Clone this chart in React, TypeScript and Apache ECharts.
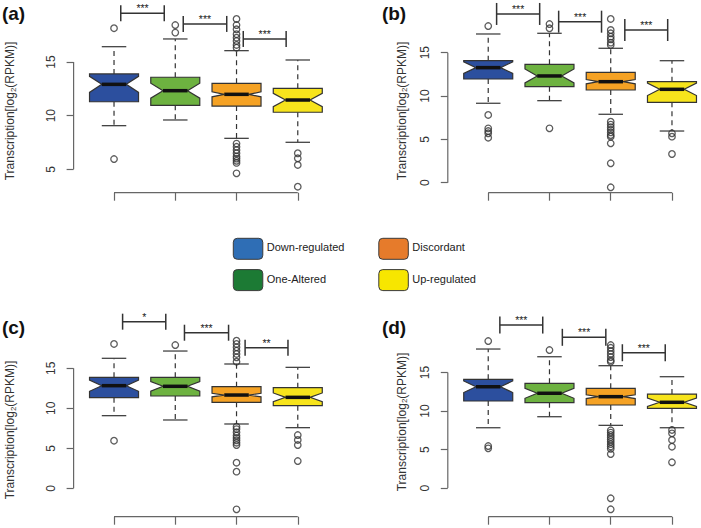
import React, { useEffect, useRef } from 'react';
import * as echarts from 'echarts';

const FONT = 'Liberation Sans, Arial, Helvetica, sans-serif';

const groups = ['Down-regulated', 'One-Altered', 'Discordant', 'Up-regulated'];
const boxColors = ['#2C4F9E', '#6DB240', '#F5A224', '#F7E41C'];
const legendColors = ['#2F6EB5', '#1C7A34', '#E67B2B', '#F7E600'];
const panelLabels = ['(a)', '(b)', '(c)', '(d)'];

// stats per group: [lowerWhisker, q1, median, q3, upperWhisker]
const statsA = [
  [9.07, 11.3, 12.92, 13.89, 16.43],
  [9.6, 10.97, 12.33, 13.58, 17.15],
  [7.89, 10.9, 11.99, 13.02, 16.06],
  [7.52, 10.32, 11.46, 12.55, 15.19],
];
const notchA = [0.75, 0.7, 0.23, 0.62];
const outliersA = [
  [18.15, 5.96],
  [18.45, 17.74],
  [19.01, 18.45, 18.05, 17.59, 17.27, 16.96, 16.59, 16.34, 7.4, 7.1, 6.8, 6.5, 6.2, 6.0, 5.8, 5.6, 4.63],
  [6.5, 6.03, 5.41, 3.38],
];
const bracketsA = [
  [1.11, 1.82, 19.54],
  [2.13, 2.84, 18.55],
  [3.11, 3.81, 17.15],
];
const starsA = ['***', '***', '***'];

const statsB = [
  [9.16, 11.96, 13.27, 14.07, 17.15],
  [9.46, 11.07, 12.31, 13.65, 17.23],
  [7.89, 10.69, 11.65, 12.73, 15.5],
  [5.96, 9.27, 10.77, 11.65, 14.07],
];
const notchB = [0.67, 0.8, 0.25, 0.72];
const outliersB = [
  [18.07, 7.81, 6.27, 5.96, 5.7, 5.19],
  [18.3, 17.81, 6.27],
  [18.88, 17.61, 17.23, 16.84, 16.54, 16.15, 15.88, 7.04, 6.7, 6.4, 6.1, 5.8, 5.5, 5.3, 4.54, 2.24, -0.53],
  [5.7, 5.31, 3.31],
];
const bracketsB = [
  [1.137, 1.84, 19.46],
  [2.15, 2.85, 18.57],
  [3.23, 3.93, 17.61],
];
const starsB = ['***', '***', '***'];

const statsC = [
  [9.08, 11.33, 12.83, 13.87, 16.25],
  [8.54, 11.54, 12.75, 13.87, 17.16],
  [8.04, 10.75, 11.66, 12.7, 15.54],
  [7.58, 10.33, 11.37, 12.58, 15.12],
];
const notchC = [0.7, 0.6, 0.22, 0.55];
const outliersC = [
  [18.04, 5.95],
  [17.91],
  [18.45, 18.04, 17.62, 17.2, 16.79, 16.37, 15.83, 7.7, 7.4, 7.0, 6.6, 6.3, 6.0, 5.7, 5.4, 3.2, 2.08, -2.63],
  [6.66, 6.04, 5.41, 3.41],
];
const bracketsC = [
  [1.14, 1.845, 20.83],
  [2.15, 2.87, 19.45],
  [3.14, 3.84, 17.58],
];
const starsC = ['*', '***', '**'];

const statsD = [
  [7.83, 11.3, 13.15, 14.11, 18.04],
  [9.26, 11.08, 12.3, 13.59, 17.04],
  [8.14, 10.78, 11.86, 12.94, 15.88],
  [7.83, 10.35, 11.13, 12.2, 14.45],
];
const notchD = [0.75, 0.65, 0.25, 0.55];
const outliersD = [
  [19.08, 5.46, 5.16],
  [17.91],
  [18.56, 18.2, 17.8, 17.4, 17.0, 16.6, 16.4, 7.5, 7.2, 6.9, 6.6, 6.3, 6.0, 5.7, 5.4, 5.1, 4.42, -1.32, -2.75],
  [7.54, 7.1, 6.24, 5.37, 3.35],
];
const bracketsD = [
  [1.19, 1.89, 21.15],
  [2.21, 2.92, 19.56],
  [3.19, 3.89, 17.56],
];
const starsD = ['***', '***', '***'];

const yTicksA = [5, 10, 15];
const yTicksB = [0, 5, 10, 15];
const yTicksC = [0, 5, 10, 15];
const yTicksD = [0, 5, 10, 15];
const xTicks = [1, 2, 3, 4];

// layout (pixels) and axis ranges per panel
const panels = [
  { stats: statsA, notch: notchA, out: outliersA, br: bracketsA, stars: starsA, ticks: yTicksA,
    left: 73.6, top: 0, height: 192.7, yMin: 2.824, yMax: 20.78, tickHalf: 8,
    title: [10, 111], label: [13.5, 13.5] },
  { stats: statsB, notch: notchB, out: outliersB, br: bracketsB, stars: starsB, ticks: yTicksB,
    left: 447.8, top: 0, height: 192.7, yMin: -1.153, yMax: 21.07, tickHalf: 11,
    title: [401.7, 111], label: [394, 13] },
  { stats: statsC, notch: notchC, out: outliersC, br: bracketsC, stars: starsC, ticks: yTicksC,
    left: 73.6, top: 300, height: 216.7, yMin: -3.55, yMax: 23.54, tickHalf: 8,
    title: [10, 430], label: [13.5, 327.5] },
  { stats: statsD, notch: notchD, out: outliersD, br: bracketsD, stars: starsD, ticks: yTicksD,
    left: 447.8, top: 300, height: 216.7, yMin: -3.71, yMax: 24.4, tickHalf: 8.5,
    title: [401.7, 422], label: [394, 327] },
];
const X_MIN = 0.34;
const X_MAX = 4.45;
const PX_PER_X = 61.25;

const legendItems = [
  { name: groups[0], color: legendColors[0], x: 233.3, y: 238.3 },
  { name: groups[2], color: legendColors[2], x: 378.8, y: 238.3 },
  { name: groups[1], color: legendColors[1], x: 233.3, y: 269.6 },
  { name: groups[3], color: legendColors[3], x: 378.8, y: 269.6 },
];

function buildOption() {
  const grid: any[] = [];
  const xAxis: any[] = [];
  const yAxis: any[] = [];
  const series: any[] = [];
  const graphic: any[] = [];

  panels.forEach((p, gi) => {
    grid.push({ left: p.left, top: p.top, width: (X_MAX - X_MIN) * PX_PER_X, height: p.height, containLabel: false });
    xAxis.push({
      gridIndex: gi, type: 'value', min: X_MIN, max: X_MAX, position: 'bottom',
      axisLine: { show: false, onZero: false }, splitLine: { show: false },
      axisTick: { show: true, length: 8, customValues: xTicks, lineStyle: { color: '#666', width: 1.2 } },
      axisLabel: { show: false },
    });
    yAxis.push({
      gridIndex: gi, type: 'value', min: p.yMin, max: p.yMax, position: 'left',
      axisLine: { show: false, onZero: false }, splitLine: { show: false },
      axisTick: { show: true, length: 7, customValues: p.ticks, lineStyle: { color: '#666', width: 1.2 } },
      axisLabel: { show: true, customValues: p.ticks, rotate: 90, margin: 17, fontSize: 12, color: '#333', fontFamily: FONT },
    });

    // axis lines spanning tick range (R style)
    const ticks = p.ticks;
    series.push({
      type: 'custom', xAxisIndex: gi, yAxisIndex: gi, silent: true, z: 1,
      data: [[xTicks[0], ticks[0]]],
      renderItem: (params: any, api: any) => {
        const cs = params.coordSys;
        const bottom = cs.y + cs.height;
        const xa = api.coord([xTicks[0], p.yMin])[0];
        const xb = api.coord([xTicks[xTicks.length - 1], p.yMin])[0];
        const ya = api.coord([X_MIN, ticks[0]])[1];
        const yb = api.coord([X_MIN, ticks[ticks.length - 1]])[1];
        const st = { stroke: '#666', lineWidth: 1.2 };
        return {
          type: 'group', children: [
            { type: 'line', shape: { x1: xa, y1: bottom, x2: xb, y2: bottom }, style: st },
            { type: 'line', shape: { x1: cs.x, y1: ya, x2: cs.x, y2: yb }, style: st },
          ],
        };
      },
    });

    // notched boxes
    const boxData = p.stats.map((s, i) => [i + 1, s[0], s[1], s[2], s[3], s[4], p.notch[i]]);
    series.push({
      type: 'custom', name: 'box' + gi, xAxisIndex: gi, yAxisIndex: gi, z: 2,
      data: boxData,
      encode: { x: 0, y: [1, 5] },
      renderItem: (params: any, api: any) => {
        const x = api.value(0);
        const lw = api.value(1), q1 = api.value(2), med = api.value(3), q3 = api.value(4), uw = api.value(5), nh = api.value(6);
        const halfW = api.size([0.8, 0])[0] / 2;
        const nw = halfW / 2;
        const cap = halfW / 2;
        const cx = api.coord([x, med])[0];
        const Y = (v: number) => api.coord([x, v])[1];
        const yq1 = Y(q1), yq3 = Y(q3), ym = Y(med), ylo = Y(med - nh), yhi = Y(med + nh), ylw = Y(lw), yuw = Y(uw);
        const dash = { stroke: '#333', lineWidth: 1.2, lineDash: [5, 4] };
        const capSt = { stroke: '#444', lineWidth: 1.3 };
        return {
          type: 'group', children: [
            { type: 'line', shape: { x1: cx, y1: yq3, x2: cx, y2: yuw }, style: dash },
            { type: 'line', shape: { x1: cx, y1: yq1, x2: cx, y2: ylw }, style: dash },
            { type: 'line', shape: { x1: cx - cap, y1: yuw, x2: cx + cap, y2: yuw }, style: capSt },
            { type: 'line', shape: { x1: cx - cap, y1: ylw, x2: cx + cap, y2: ylw }, style: capSt },
            {
              type: 'polygon',
              shape: {
                points: [
                  [cx - halfW, yq1], [cx + halfW, yq1], [cx + halfW, ylo], [cx + nw, ym], [cx + halfW, yhi],
                  [cx + halfW, yq3], [cx - halfW, yq3], [cx - halfW, yhi], [cx - nw, ym], [cx - halfW, ylo],
                ],
              },
              style: { fill: boxColors[params.dataIndex], stroke: '#333', lineWidth: 1.2 },
            },
            { type: 'line', shape: { x1: cx - nw, y1: ym, x2: cx + nw, y2: ym }, style: { stroke: '#111', lineWidth: 3.5 } },
          ],
        };
      },
    });

    // outliers
    const outData: number[][] = [];
    p.out.forEach((arr, i) => arr.forEach((v) => outData.push([i + 1, v])));
    series.push({
      type: 'scatter', name: 'outliers' + gi, xAxisIndex: gi, yAxisIndex: gi, z: 3,
      data: outData, symbol: 'circle', symbolSize: 6.5,
      itemStyle: { color: 'rgba(0,0,0,0)', borderColor: '#333', borderWidth: 1.3 },
      silent: true,
    });

    // significance brackets
    const br = p.br;
    const stars = p.stars;
    series.push({
      type: 'custom', name: 'sig' + gi, xAxisIndex: gi, yAxisIndex: gi, z: 4,
      data: br,
      encode: { x: [0, 1], y: 2 },
      renderItem: (params: any, api: any) => {
        const a = api.coord([api.value(0), api.value(2)]);
        const b = api.coord([api.value(1), api.value(2)]);
        const h = p.tickHalf;
        const st = { stroke: '#333', lineWidth: 1.5 };
        return {
          type: 'group', children: [
            { type: 'line', shape: { x1: a[0], y1: a[1], x2: b[0], y2: b[1] }, style: st },
            { type: 'line', shape: { x1: a[0], y1: a[1] - h, x2: a[0], y2: a[1] + h }, style: st },
            { type: 'line', shape: { x1: b[0], y1: b[1] - h, x2: b[0], y2: b[1] + h }, style: st },
            {
              type: 'text', x: (a[0] + b[0]) / 2, y: a[1] - 5,
              style: { text: stars[params.dataIndex], fontSize: 10.5, fontFamily: FONT, fill: '#222', align: 'center', verticalAlign: 'middle' },
            },
          ],
        };
      },
    });

    graphic.push({
      type: 'text', x: p.title[0], y: p.title[1], rotation: Math.PI / 2,
      style: {
        text: '{a|Transcription[log}{s|2}{a|(RPKM)]}',
        align: 'center', verticalAlign: 'middle',
        rich: {
          a: { fontSize: 12, fontFamily: FONT, fill: '#333', lineHeight: 14 },
          s: { fontSize: 8, fontFamily: FONT, fill: '#333', lineHeight: 14, verticalAlign: 'bottom', padding: [4, 0, 0, 0] },
        },
      },
    });
    graphic.push({
      type: 'text', x: p.label[0], y: p.label[1],
      style: { text: panelLabels[gi], fontSize: 19, fontWeight: 'bold', fontFamily: FONT, fill: '#111', align: 'center', verticalAlign: 'middle' },
    });
  });

  legendItems.forEach((it) => {
    graphic.push({
      type: 'rect', shape: { x: it.x, y: it.y, width: 29.5, height: 21, r: 4 },
      style: { fill: it.color, stroke: '#3a3a3a', lineWidth: 1 },
    });
    graphic.push({
      type: 'text', x: it.x + 33.5, y: it.y + 9,
      style: { text: it.name, fontSize: 11, fontFamily: FONT, fill: '#222', align: 'left', verticalAlign: 'middle' },
    });
  });

  return { animation: false, backgroundColor: '#fff', grid, xAxis, yAxis, series, graphic };
}

export default function App() {
  const ref = useRef<HTMLDivElement>(null);
  useEffect(() => {
    if (!ref.current) return;
    const chart = echarts.init(ref.current, undefined, { renderer: 'svg' });
    chart.setOption(buildOption() as any);
    return () => chart.dispose();
  }, []);
  return <div ref={ref} style={{ position: 'fixed', left: 0, top: 0, width: 701, height: 528, background: '#fff' }} />;
}
